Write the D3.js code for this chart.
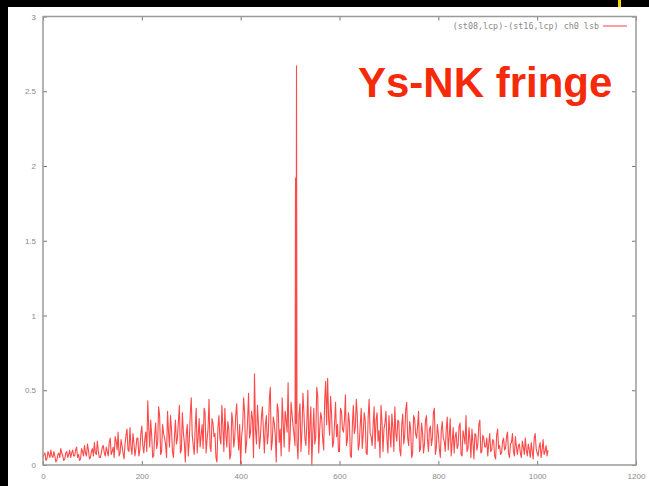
<!DOCTYPE html>
<html><head><meta charset="utf-8">
<script src="https://cdn.jsdelivr.net/npm/d3@7"></script>
<style>
html,body{margin:0;padding:0;background:#000;}
svg{display:block;}
</style></head>
<body>
<svg id="chart" width="649" height="486"></svg>
<script>
// ---- data ----
const seriesName = "(st08,lcp)-(st16,lcp) ch0 lsb";
const titleText = "Ys-NK fringe";
const lagStep = 4;
// amplitude at lags 0, 4, 8, ... 1020
const amplitudeEven = [
 0.05,0.08,0.04,0.07,0.10,0.05,0.06,0.03,0.08,0.11,0.06,0.04,0.09,0.07,0.05,0.10,
 0.06,0.12,0.07,0.04,0.09,0.13,0.06,0.10,0.05,0.11,0.15,0.07,0.09,0.05,0.12,0.08,
 0.12,0.06,0.18,0.09,0.05,0.16,0.22,0.08,0.13,0.04,0.20,0.10,0.25,0.07,0.15,0.11,
 0.18,0.10,0.26,0.08,0.22,0.43,0.12,0.19,0.06,0.28,0.15,0.33,0.09,0.21,0.14,0.36,
 0.12,0.24,0.05,0.30,0.18,0.40,0.10,0.22,0.02,0.27,0.16,0.45,0.13,0.25,0.08,0.31,
 0.20,0.11,0.35,0.17,0.44,0.09,0.28,0.21,0.02,0.33,0.14,0.26,0.38,0.12,0.24,0.07,
 0.29,0.18,0.41,0.10,0.00,0.26,0.35,0.15,0.48,0.22,0.31,0.61,0.14,0.27,0.19,0.39,
 0.08,0.33,0.21,0.52,0.16,0.28,0.02,0.37,0.24,0.45,0.12,0.30,0.55,0.18,0.34,0.20,
 0.28,0.04,0.41,0.22,0.35,0.13,0.50,0.26,0.00,0.38,0.19,0.46,0.24,0.31,0.10,0.56,
 0.58,0.20,0.34,0.15,0.42,0.27,0.09,0.36,0.22,0.47,0.17,0.29,0.05,0.40,0.25,0.33,
 0.14,0.38,0.21,0.30,0.07,0.44,0.19,0.26,0.11,0.35,0.23,0.40,0.09,0.28,0.17,0.33,
 0.12,0.25,0.39,0.16,0.29,0.06,0.34,0.20,0.42,0.13,0.24,0.08,0.31,0.18,0.36,0.11,
 0.22,0.14,0.33,0.09,0.26,0.18,0.38,0.12,0.21,0.05,0.29,0.16,0.24,0.10,0.31,0.15,
 0.08,0.22,0.13,0.28,0.06,0.19,0.33,0.11,0.17,0.24,0.04,0.20,0.14,0.30,0.09,0.18,
 0.12,0.06,0.21,0.10,0.16,0.04,0.24,0.13,0.08,0.18,0.11,0.22,0.05,0.15,0.09,0.19,
 0.07,0.14,0.05,0.12,0.18,0.06,0.10,0.15,0.04,0.21,0.08,0.12,0.05,0.17,0.09,0.06
];
// amplitude at lags 2, 6, 10, ... 1022
const amplitudeMid = [
 0.07,0.03,0.09,0.05,0.06,0.09,0.02,0.07,0.05,0.08,0.03,0.08,0.05,0.10,0.08,0.06,
 0.10,0.05,0.03,0.11,0.06,0.08,0.14,0.04,0.09,0.06,0.08,0.16,0.05,0.08,0.13,0.06,
 0.09,0.15,0.07,0.12,0.19,0.10,0.06,0.17,0.08,0.14,0.24,0.09,0.12,0.21,0.06,0.18,
 0.06,0.21,0.13,0.17,0.09,0.25,0.30,0.05,0.20,0.11,0.39,0.07,0.27,0.18,0.05,0.22,
 0.33,0.09,0.19,0.14,0.29,0.08,0.35,0.15,0.21,0.06,0.34,0.20,0.07,0.38,0.19,0.12,
 0.27,0.38,0.08,0.24,0.13,0.31,0.19,0.05,0.25,0.18,0.40,0.09,0.20,0.29,0.04,0.35,
 0.12,0.33,0.22,0.27,0.19,0.45,0.08,0.30,0.18,0.36,0.05,0.24,0.40,0.11,0.32,0.23,
 0.27,0.14,0.44,0.10,0.32,0.20,0.41,0.15,0.06,0.29,0.36,0.22,0.09,0.42,0.26,0.13,
 0.15,0.33,0.09,0.48,0.18,0.29,0.07,0.39,0.21,0.14,0.52,0.08,0.35,0.17,0.43,0.27,
 0.31,0.46,0.12,0.28,0.19,0.09,0.38,0.24,0.30,0.13,0.35,0.06,0.26,0.21,0.44,0.10,
 0.27,0.11,0.35,0.08,0.32,0.21,0.13,0.39,0.30,0.16,0.05,0.29,0.24,0.36,0.08,0.22,
 0.34,0.09,0.21,0.30,0.10,0.27,0.14,0.37,0.18,0.29,0.05,0.33,0.21,0.26,0.09,0.28,
 0.08,0.30,0.17,0.24,0.13,0.35,0.07,0.27,0.11,0.23,0.18,0.09,0.32,0.19,0.06,0.25,
 0.19,0.11,0.26,0.07,0.23,0.14,0.09,0.25,0.05,0.15,0.21,0.10,0.27,0.08,0.20,0.12,
 0.18,0.14,0.09,0.17,0.06,0.20,0.11,0.07,0.16,0.10,0.19,0.08,0.14,0.21,0.06,0.12,
 0.13,0.08,0.16,0.07,0.10,0.14,0.05,0.09,0.18,0.11,0.06,0.15,0.10,0.07,0.13,0.10
];
const peakLags = [511, 513];
const peakValues = [1.92, 2.67];
const xTicks = [0, 200, 400, 600, 800, 1000, 1200];
const yTicks = [0, 0.5, 1, 1.5, 2, 2.5, 3];

// ---- build points ----
const points = [];
amplitudeEven.forEach((v, i) => points.push({lag: i * lagStep, v}));
amplitudeMid.forEach((v, i) => points.push({lag: i * lagStep + lagStep / 2, v}));
peakLags.forEach((l, i) => points.push({lag: l, v: peakValues[i]}));
points.sort((a, b) => a.lag - b.lag);

// ---- layout ----
const svg = d3.select("#chart");
const W = 649, H = 486;
const plot = {left: 43, right: 636, top: 16.5, bottom: 465};

// black frame + white panel
svg.append("rect").attr("x", 0).attr("y", 0).attr("width", W).attr("height", H).attr("fill", "#000");
svg.append("rect").attr("x", 8).attr("y", 7).attr("width", W - 8).attr("height", H - 7).attr("fill", "#fff");
svg.append("rect").attr("x", 618).attr("y", 0).attr("width", 3).attr("height", 7).attr("fill", "#f5d800");

const x = d3.scaleLinear().domain([0, 1200]).range([plot.left, plot.right]);
const y = d3.scaleLinear().domain([0, 3]).range([plot.bottom, plot.top]);

const axisColor = "#9a9a9a";
const textColor = "#8a8a8a";
const tickFont = "'Liberation Sans', Arial, sans-serif";

// axes (ticks pointing inward, mirrored)
const gB = svg.append("g").attr("transform", `translate(0,${plot.bottom})`)
  .call(d3.axisBottom(x).tickValues(xTicks).tickSize(-4).tickPadding(8).tickFormat(d3.format("d")));
const gT = svg.append("g").attr("transform", `translate(0,${plot.top})`)
  .call(d3.axisTop(x).tickValues(xTicks).tickSize(-4).tickFormat(""));
const gL = svg.append("g").attr("transform", `translate(${plot.left},0)`)
  .call(d3.axisLeft(y).tickValues(yTicks).tickSize(-4).tickPadding(7).tickFormat(d => d3.format("")(d)));
const gR = svg.append("g").attr("transform", `translate(${plot.right},0)`)
  .call(d3.axisRight(y).tickValues(yTicks).tickSize(-4).tickFormat(""));
[gB, gT, gL, gR].forEach(g => {
  g.select(".domain").remove();
  g.selectAll(".tick line").attr("stroke", "#777").attr("stroke-width", 1);
  g.selectAll("text").attr("fill", textColor).attr("font-family", tickFont).attr("font-size", 8);
});

// series line
const line = d3.line().x(d => x(d.lag)).y(d => y(d.v));
svg.append("path").datum(points)
  .attr("d", line).attr("fill", "none")
  .attr("stroke", "#ff1a1a").attr("stroke-width", 1.1).attr("stroke-opacity", 0.8)
  .attr("stroke-linejoin", "round");

// frame
svg.append("rect").attr("x", plot.left).attr("y", plot.top)
  .attr("width", plot.right - plot.left).attr("height", plot.bottom - plot.top)
  .attr("fill", "none").attr("stroke", axisColor).attr("stroke-width", 1.5);

// legend
svg.append("text").attr("x", 599).attr("y", 28.5).attr("text-anchor", "end")
  .attr("font-family", "'DejaVu Sans Mono', monospace").attr("font-size", 8.4)
  .attr("fill", textColor).text(seriesName);
svg.append("line").attr("x1", 603).attr("x2", 627).attr("y1", 26).attr("y2", 26)
  .attr("stroke", "#ff4040").attr("stroke-width", 1);

// big title
svg.append("text").attr("x", 358).attr("y", 97)
  .attr("font-family", "'Liberation Sans', Arial, sans-serif").attr("font-weight", "bold")
  .attr("font-size", 42).attr("fill", "#f52a0a").text(titleText);
</script>
</body></html>
